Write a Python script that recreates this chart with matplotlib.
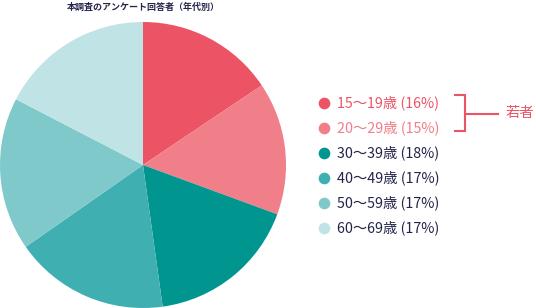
import matplotlib
matplotlib.use("Agg")
import matplotlib.pyplot as plt

plt.rcParams['font.family'] = ['Noto Sans CJK JP', 'DejaVu Sans']

title = "本調査のアンケート回答者（年代別）"
categories = ["15〜19歳", "20〜29歳", "30〜39歳", "40〜49歳", "50〜59歳", "60〜69歳"]
label_pct = [16, 15, 18, 17, 17, 17]
slice_shares = [15.6, 15.0, 17.2, 17.5, 17.3, 17.4]
colors = ["#EC5466", "#F07F89", "#00968F", "#40AFB2", "#80C9CB", "#C0E3E5"]
text_colors = ["#EC5466", "#F07F89", "#23244A", "#23244A", "#23244A", "#23244A"]
bracket_label = "若者"

W, H = 536, 308
fig = plt.figure(figsize=(W / 100, H / 100), dpi=100)

ax = fig.add_axes([0, 0, 286 / W, 286 / H])
ax.pie(slice_shares, colors=colors, startangle=90, counterclock=False,
       wedgeprops=dict(linewidth=0))
ax.set_xlim(-1, 1)
ax.set_ylim(-1, 1)
ax.set_aspect('equal')
ax.axis('off')

fig.text(143 / W, 1 - 7 / H, title, ha='center', va='center',
         fontsize=6.5, fontweight='bold', color='#23244A')

lax = fig.add_axes([0, 0, 1, 1])
lax.set_xlim(0, W)
lax.set_ylim(H, 0)
lax.axis('off')
row_y0, row_dy = 103, 24.9
for i, (cat, val, c, tc) in enumerate(zip(categories, label_pct, colors, text_colors)):
    y = row_y0 + i * row_dy
    lax.plot([324], [y], marker='o', markersize=8.4, color=c, markeredgewidth=0)
    lax.text(337, y, f"{cat} ({val}%)", ha='left', va='center', fontsize=10.3, color=tc)

bc = "#EC5466"
lax.plot([455, 465, 465, 455], [95, 95, 131, 131], color=bc, linewidth=1.5,
         solid_joinstyle='miter')
lax.plot([465, 498], [113.5, 113.5], color=bc, linewidth=1.5)
lax.text(506, 113, bracket_label, ha='left', va='center', fontsize=10.3, color=bc)

fig.savefig("out.png", dpi=100)
